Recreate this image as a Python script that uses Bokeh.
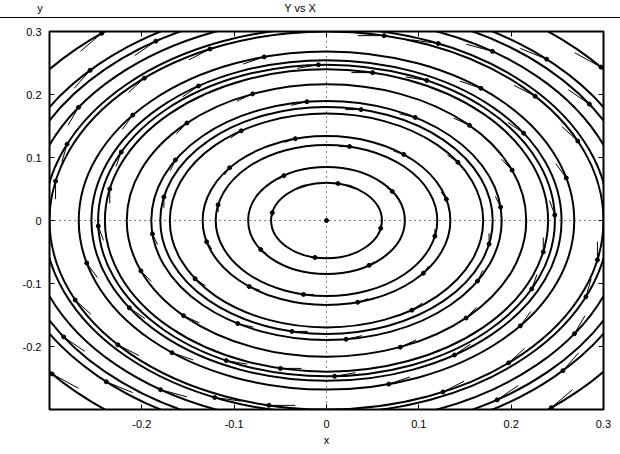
import numpy as np
from bokeh.plotting import figure
from bokeh.layouts import column
from bokeh.models import (Range1d, FixedTicker, LinearAxis, Span, Div,
                          PrintfTickFormatter, CustomJSTickFormatter, ColumnDataSource)
from bokeh.embed import file_html
from bokeh.resources import INLINE

# ---- data ----
# trajectory seeds (grid in the phase plane)
seed_x = [-0.30, -0.24, -0.18, -0.12, -0.06, 0.00, 0.06, 0.12, 0.18, 0.24, 0.30]
seed_y = [-0.30, -0.24, -0.18, -0.12, -0.06, 0.00, 0.06, 0.12, 0.18, 0.24, 0.30]
arrow_advance_deg = 12.0      # clockwise advance of arrow heads from their seeds
arrow_len = 0.095             # arrow shaft = arrow_len * velocity at the seed
x_ticks = [-0.2, -0.1, 0.0, 0.1, 0.2, 0.3]
y_ticks = [-0.2, -0.1, 0.0, 0.1, 0.2, 0.3]
title_text = "Y vs X"
x_label = "x"
y_label = "y"

FONT = "Liberation Sans"

# ---- derived geometry ----
gx, gy = np.meshgrid(np.array(seed_x), np.array(seed_y))
gx = gx.ravel(); gy = gy.ravel()
radii = np.unique(np.round(np.hypot(gx, gy), 6))
radii = radii[radii > 0]

a = np.deg2rad(arrow_advance_deg)
hx = gx * np.cos(a) + gy * np.sin(a)      # clockwise rotation (flow x' = y, y' = -x)
hy = -gx * np.sin(a) + gy * np.cos(a)
tx = hx - arrow_len * gy
ty = hy + arrow_len * gx

# ---- header: y label, title, rule ----
header = Div(
    text=(
        '<div style="position:relative;width:620px;height:23px;overflow:hidden;'
        'font-family:\'Liberation Sans\',sans-serif;font-size:11px;line-height:13px;color:#000;">'
        f'<span style="position:absolute;left:40px;top:2px;transform:translateX(-50%);">{y_label}</span>'
        f'<span style="position:absolute;left:300px;top:2px;transform:translateX(-50%);white-space:nowrap;">{title_text}</span>'
        '<div style="position:absolute;left:0;top:17px;width:620px;height:1px;background:#000;"></div>'
        '</div>'
    ),
    width=620, height=23, margin=(0, 0, 0, 0),
)

# ---- main plot ----
p = figure(width=620, height=431, output_backend="svg", toolbar_location=None, title=None,
           x_range=Range1d(-0.3, 0.3), y_range=Range1d(-0.3, 0.3),
           min_border_left=49, min_border_right=17, min_border_top=8, min_border_bottom=45)
p.xgrid.visible = False
p.ygrid.visible = False
p.outline_line_color = "black"
p.outline_line_width = 2
p.background_fill_color = "white"
p.border_fill_color = "white"

fmt = PrintfTickFormatter(format="%g")
for ax, ticks in ((p.xaxis[0], x_ticks), (p.yaxis[0], y_ticks)):
    ax.ticker = FixedTicker(ticks=ticks)
    ax.formatter = fmt
    ax.axis_line_color = None
    ax.major_tick_in = 5
    ax.major_tick_out = 0
    ax.major_tick_line_color = "black"
    ax.minor_tick_line_color = None
    ax.major_label_text_font = FONT
    ax.major_label_text_font_size = "11px"
    ax.major_label_text_color = "black"
p.xaxis[0].major_label_standoff = 10
p.yaxis[0].major_label_standoff = 8

p.xaxis[0].axis_label = x_label
p.xaxis[0].axis_label_text_font = FONT
p.xaxis[0].axis_label_text_font_size = "11px"
p.xaxis[0].axis_label_text_font_style = "normal"
p.xaxis[0].axis_label_text_color = "black"
p.xaxis[0].axis_label_standoff = 3

blank = CustomJSTickFormatter(code="return ''")
for loc, ticks in (("above", x_ticks), ("right", y_ticks)):
    ax = LinearAxis(ticker=FixedTicker(ticks=ticks), formatter=blank, axis_line_color=None,
                    major_tick_in=5, major_tick_out=0, minor_tick_line_color=None,
                    major_label_standoff=0, major_label_text_font_size="1px")
    p.add_layout(ax, loc)

p.add_layout(Span(location=0, dimension="width", line_color="black", line_width=1, line_dash="1 4"))
p.add_layout(Span(location=0, dimension="height", line_color="black", line_width=1, line_dash="1 4"))

circ = ColumnDataSource(dict(x=np.zeros_like(radii), y=np.zeros_like(radii), w=2 * radii, h=2 * radii))
p.ellipse(x="x", y="y", width="w", height="h", source=circ, fill_color=None,
          line_color="black", line_width=2)

arr = ColumnDataSource(dict(x0=tx, y0=ty, x1=hx, y1=hy))
p.segment(x0="x0", y0="y0", x1="x1", y1="y1", source=arr, line_color="black", line_width=1)
p.scatter(x="x1", y="y1", source=arr, size=4, marker="circle", color="black")

layout = column(header, p, spacing=0)
open("out.html", "w").write(file_html(layout, INLINE))
